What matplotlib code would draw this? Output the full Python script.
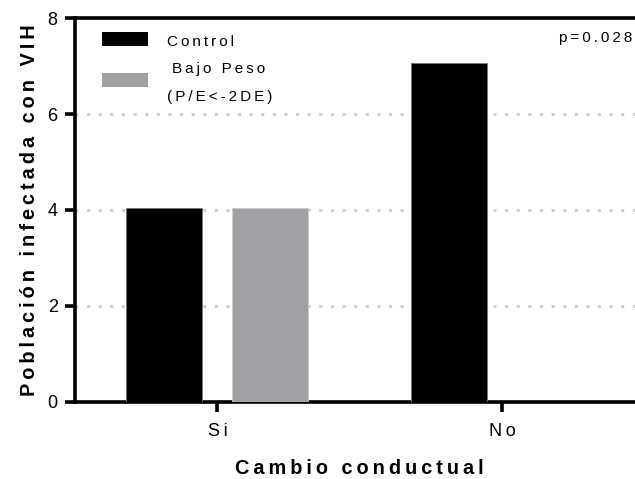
import numpy as np
import matplotlib.pyplot as plt
from matplotlib.patches import Rectangle

# Datos
categorias = ["Si", "No"]
control = [4.05, 7.06]
bajo_peso = [4.05, 0.0]
y_ticks = [0, 2, 4, 6, 8]
p_valor = "p=0.028"

color_control = "black"
color_bajo = "#a1a0a5"


def espaciar(texto, sep="\u2009"):
    # imita el espaciado amplio de letras del original
    return sep.join(texto)


plt.rcParams['font.family'] = ['Liberation Sans', 'DejaVu Sans']

fig = plt.figure(figsize=(6.35, 4.79), dpi=100)
# el eje sigue un poco más allá del borde derecho (imagen recortada)
ax = fig.add_axes([0.1181, 0.1608, 0.8969, 0.8016])

x = np.arange(len(categorias))
ancho = 0.267
desp = 0.186

ax.bar(x - desp, control, ancho, color=color_control, edgecolor="#777777", linewidth=0.6, zorder=3)
ax.bar(x + desp, bajo_peso, ancho, color=color_bajo, edgecolor="#c8c8c8", linewidth=0.6, zorder=3)

ax.set_xlim(-0.5, 1.5)
ax.set_ylim(0, 8)
ax.set_yticks(y_ticks)
ax.set_xticks(x)
ax.set_xticklabels([espaciar(c) for c in categorias], fontsize=13)
ax.tick_params(axis="y", labelsize=13, width=2.6, length=7.5, direction="out", pad=5)
ax.tick_params(axis="x", width=2.6, length=7, direction="out", pad=8)

for yv in [2, 4, 6]:
    ax.axhline(yv, color="#cfcfcf", linestyle=(0, (1, 2.8)), linewidth=2.2, zorder=1)

for lado in ["left", "bottom", "top"]:
    ax.spines[lado].set_linewidth(2.6)
ax.spines["right"].set_visible(False)

ax.set_ylabel(espaciar("Población infectada con VIH"), fontsize=14.3, fontweight="bold", labelpad=6)
ax.set_xlabel(espaciar("Cambio conductual"), fontsize=14.3, fontweight="bold", labelpad=14)

# leyenda dibujada a mano
ax.add_patch(Rectangle((0.0474, 0.927), 0.0808, 0.0365, transform=ax.transAxes,
                       facecolor=color_control, edgecolor="none", clip_on=False, zorder=4))
ax.add_patch(Rectangle((0.0474, 0.820), 0.0808, 0.0365, transform=ax.transAxes,
                       facecolor=color_bajo, edgecolor="none", clip_on=False, zorder=4))
ax.text(0.1615, 0.9375, espaciar("Control"), transform=ax.transAxes, ha="left", va="center", fontsize=11)
ax.text(0.170, 0.867, espaciar("Bajo Peso"), transform=ax.transAxes, ha="left", va="center", fontsize=11)
ax.text(0.1615, 0.794, espaciar("(P/E<-2DE)"), transform=ax.transAxes, ha="left", va="center", fontsize=11)

ax.text(0.978, 0.948, espaciar(p_valor), transform=ax.transAxes, ha="right", va="center", fontsize=11)

fig.savefig("out.png", dpi=100)
